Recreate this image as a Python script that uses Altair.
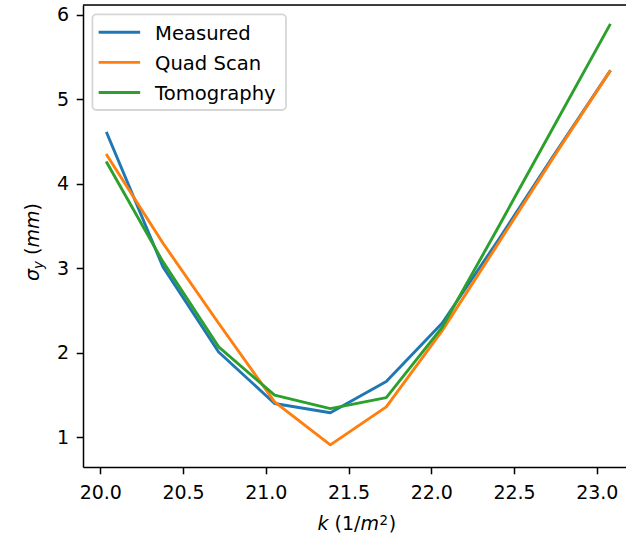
import altair as alt
import pandas as pd

# ---- data ----
k_values = [20.04, 20.378, 20.715, 21.053, 21.39, 21.728, 22.065, 22.403, 22.74, 23.078]
measured = [4.60, 3.02, 2.01, 1.40, 1.29, 1.66, 2.35, 3.33, 4.34, 5.33]
quad_scan = [4.34, 3.30, 2.35, 1.42, 0.91, 1.36, 2.26, 3.29, 4.32, 5.33]
tomography = [4.25, 3.08, 2.07, 1.50, 1.34, 1.47, 2.30, 3.48, 4.68, 5.88]

series_names = ["Measured", "Quad Scan", "Tomography"]
series_values = [measured, quad_scan, tomography]
series_colors = ["#1f77b4", "#ff7f0e", "#2ca02c"]

x_ticks = [20.0, 20.5, 21.0, 21.5, 22.0, 22.5, 23.0]
y_ticks = [1, 2, 3, 4, 5, 6]

# ---- layout (pixels) ----
W, H = 543, 462
PAD_L, PAD_T, PAD_R, PAD_B = 83, 5, 0, 72
FONT = "DejaVu Sans"
FS = 19

rows = []
for name, vals in zip(series_names, series_values):
    for kv, v in zip(k_values, vals):
        rows.append({"k": kv, "sigma": v, "series": name})
df = pd.DataFrame(rows)

x_scale = alt.Scale(domain=[19.8955, 23.1765], nice=False, zero=False)
y_scale = alt.Scale(domain=[0.648, 6.118], nice=False, zero=False)
color_scale = alt.Scale(domain=series_names, range=series_colors)

x_axis = alt.Axis(values=x_ticks, format=".1f", title=None, grid=False,
                  labelFont=FONT, labelFontSize=FS, labelColor="black",
                  labelPadding=9.5, tickSize=6.8, tickWidth=1.5, tickColor="black",
                  domainColor="black", domainWidth=1.5, labelFlush=False)
y_axis = alt.Axis(values=y_ticks, format="d", title=None, grid=False,
                  labelFont=FONT, labelFontSize=FS, labelColor="black",
                  labelPadding=7.5, tickSize=6.8, tickWidth=1.5, tickColor="black",
                  domainColor="black", domainWidth=1.5, labelFlush=False)

layers = []
for name in series_names:
    layers.append(
        alt.Chart(df)
        .transform_filter(alt.datum.series == name)
        .mark_line(strokeWidth=2.9, strokeCap="square", strokeJoin="round")
        .encode(
            x=alt.X("k:Q", scale=x_scale, axis=x_axis),
            y=alt.Y("sigma:Q", scale=y_scale, axis=y_axis),
            color=alt.Color("series:N", scale=color_scale, legend=None),
        )
    )

one = pd.DataFrame({"a": [0]})

# top spine (right spine lies outside the picture)
layers.append(
    alt.Chart(one).mark_rule(color="black", strokeWidth=1.5)
    .encode(x=alt.value(0), x2=alt.value(W), y=alt.value(0))
)

# legend frame
layers.append(
    alt.Chart(one).mark_rect(fill="white", fillOpacity=0.8, stroke="#cccccc",
                             strokeOpacity=0.8, strokeWidth=1.8, cornerRadius=3.9)
    .encode(x=alt.value(92.4 - PAD_L), x2=alt.value(286 - PAD_L),
            y=alt.value(14.4 - PAD_T), y2=alt.value(110 - PAD_T))
)

legend_rows_y = [32.3, 62.4, 92.5]
for name, col, ry in zip(series_names, series_colors, legend_rows_y):
    layers.append(
        alt.Chart(one).mark_rule(color=col, strokeWidth=2.9, strokeCap="square")
        .encode(x=alt.value(100.1 - PAD_L), x2=alt.value(138.7 - PAD_L), y=alt.value(ry - PAD_T))
    )
    layers.append(
        alt.Chart(one).mark_text(font=FONT, fontSize=19.6, color="black", align="left",
                                 baseline="alphabetic", text=name)
        .encode(x=alt.value(155.0 - PAD_L), y=alt.value(ry + 7.7 - PAD_T))
    )

# axis titles built from pieces (mathtext style)
def piece(txt, xa, ya, size=FS, italic=False, angle=0):
    kw = dict(font=FONT, fontSize=size, color="black", align="left",
              baseline="alphabetic", text=txt)
    if italic:
        kw["fontStyle"] = "italic"
    if angle:
        kw["angle"] = angle
    return alt.Chart(one).mark_text(**kw).encode(
        x=alt.value(xa - PAD_L), y=alt.value(ya - PAD_T))

xb = 530
layers += [
    piece("k", 317.5, xb, italic=True),
    piece("(1/", 334.6, xb),
    piece("m", 360.4, xb, italic=True),
    piece("2", 379.4, xb - 5.5, size=13.3),
    piece(")", 388.7, xb),
]

yb = 39
layers += [
    piece("σ", yb, 281, italic=True, angle=270),
    piece("y", yb + 4, 269, size=13.3, italic=True, angle=270),
    piece("(", yb, 255, angle=270),
    piece("mm", yb, 247.5, italic=True, angle=270),
    piece(")", yb, 210.5, angle=270),
]

chart = (
    alt.layer(*layers)
    .properties(width=W, height=H,
                padding={"left": PAD_L, "top": PAD_T, "right": PAD_R, "bottom": PAD_B},
                autosize=alt.AutoSizeParams(type="none"))
    .configure_view(stroke=None)
    .configure(background="white")
)

chart.save("out.html", embed_options={"renderer": "svg", "actions": False})
